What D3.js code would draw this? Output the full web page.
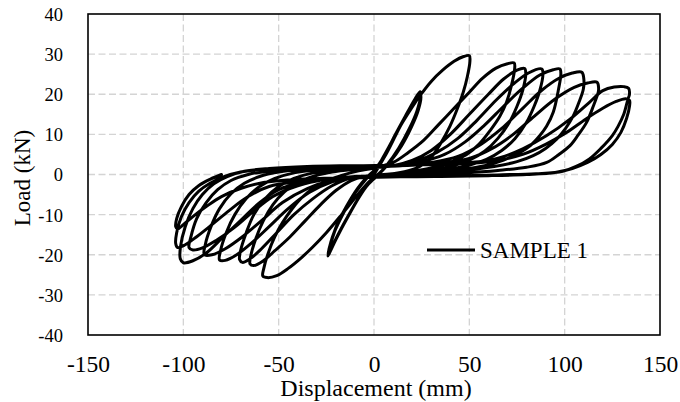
<!DOCTYPE html>
<html>
<head>
<meta charset="utf-8">
<script src="https://cdn.jsdelivr.net/npm/d3@7"></script>
<style>
  html, body { margin: 0; padding: 0; background: #ffffff; }
  svg { display: block; }
  text { font-family: "Liberation Serif", "Times New Roman", serif; fill: #000; }
</style>
</head>
<body>
<svg id="chart" width="680" height="402"></svg>
<script>
// Axis ticks
const xTicks = [-150, -100, -50, 0, 50, 100, 150];
const yTicks = [-40, -30, -20, -10, 0, 10, 20, 30, 40];
const seriesName = "SAMPLE 1";

// Load–displacement record, branch by branch: [displacement (mm), load (kN)]
const smallCycle1 = [[0,0],[5,4],[11,9.5],[17,14.8],[21.5,18.5],[24,20.3],[24.6,19.4],[23.2,16],[19.8,12],[14.5,7.2],[8.5,3.2],[3,0.4],[-2,-1.8],[-7,-5],[-13,-10],[-18.5,-14.8],[-22.3,-18.4],[-24,-20.2],[-23.6,-18.6],[-21,-14.6],[-16,-9.6],[-10.5,-5],[-5,-1.6],[0,1]];
const smallCycle2 = [[5,4.3],[11,9.8],[16.5,14.6],[21,18.4],[23.8,20.4],[24.4,19.6],[22.5,15.8],[18.5,11.4],[13,6.6],[7,2.5],[2,-0.2],[-3,-2.4],[-8.5,-6.2],[-14.5,-11.2],[-20,-16.2],[-23,-19.2],[-24.2,-20.3],[-23.4,-18.2],[-20,-13.2],[-14.5,-8],[-8.5,-3.4],[-3.5,-0.6],[1,1.4]];
const smallCycle3 = [[5.5,4.4],[11.5,9.9],[17,15],[21.5,18.8],[24.2,20.6],[24.6,19.8],[22,15],[17.5,10.2],[12,5.6],[6,1.8],[1,-0.6],[-4,-3],[-10,-7.4],[-16,-12.4],[-21,-17],[-23.6,-19.6],[-24.1,-20.1],[-22.8,-17.4],[-18.5,-11.6],[-12.5,-6.4],[-6.5,-2.2],[-2,0]];
const cycle50 = [[0,0.4],[5,4.5],[10,8.8],[15,13],[20,16.8],[25,20.2],[30,23.2],[36,26],[42,28.2],[47,29.4],[50,29.6],[50.3,28.2],[49,24.5],[46.8,20.5],[43.8,16.5],[39.8,12],[35,7.8],[30,4.3],[24,2],[16,0.7],[7,0],[0,-0.8],[-4,-2.5],[-9,-5.3],[-17,-10],[-25,-14.5],[-32,-18],[-38,-20.7],[-45,-23.4],[-51,-25.2],[-56,-25.7],[-58.3,-25.3],[-57.8,-23.4],[-55.5,-19.6],[-52,-15.5],[-48,-12],[-43,-8.6],[-37.5,-5.6],[-31,-3.2],[-24,-1.4],[-16,-0.1],[-8,0.9],[0,1.6]];
const cycle73 = [[10,3],[18,5.5],[26,8.5],[34,12.5],[42,16.5],[50,20.5],[57,24],[64,26.5],[70,27.6],[73.5,27.8],[73.8,26.5],[72,22],[69.5,18],[66,14.5],[61,11],[55,7.5],[48.6,5],[40,3],[30,1.6],[18,0.6],[5,0],[-5,-0.5],[-12,-1.5],[-20,-4],[-28,-7.5],[-36,-11.5],[-44,-15.5],[-52,-19],[-58,-21.5],[-63,-22.7],[-65,-22.3],[-64.5,-20],[-62,-16],[-58,-11.5],[-53,-7.5],[-47,-4.3],[-40,-2],[-32,-0.5],[-22,0.6],[-10,1.3],[0,1.7]];
const cycle79 = [[10,2.2],[20,3.5],[30,6],[40,10],[50,15],[60,20],[68,23.8],[75,26],[79,26.4],[79.6,25],[78,21],[75,17],[71,13],[65,9],[58,5.8],[50,3.6],[40,2],[28,1],[15,0.3],[0,-0.3],[-12,-0.8],[-22,-2.8],[-32,-6],[-42,-10],[-51,-14.5],[-59,-18.5],[-65,-21],[-69,-21.9],[-70.5,-21.2],[-70,-19],[-67,-14.5],[-63,-10],[-57,-6],[-50,-3],[-42,-1],[-32,0.4],[-20,1.2],[-5,1.7]];
const cycle88 = [[10,2.2],[22,3.3],[33,5.5],[44,9],[54,13.5],[64,18.5],[73,22.5],[81,25.3],[88,26.3],[88.6,25],[87,21],[84,17],[80,13],[74,9],[67,6],[59,3.8],[49,2.2],[37,1.2],[22,0.4],[5,-0.2],[-10,-0.6],[-22,-1.8],[-34,-4.5],[-45,-8.5],[-55,-13],[-64,-17],[-72,-20],[-78,-21.4],[-81,-21.3],[-80.5,-19],[-77.5,-14.5],[-73,-10],[-67,-6],[-60,-3],[-52,-1],[-42,0.4],[-30,1.2],[-15,1.6],[0,2]];
const cycle97 = [[12,2.3],[25,3.2],[37,5],[48,8.2],[58,12.3],[68,17],[78,21.5],[87,24.8],[94,26.1],[97.5,26.3],[98,25],[96.8,21.3],[94,15.5],[90.5,12],[87,9.7],[82,7.2],[76.6,5.5],[68,3.6],[58,2.2],[45,1.2],[30,0.4],[12,-0.2],[-8,-0.6],[-22,-1.5],[-35,-3.5],[-48,-7],[-59,-11.5],[-69,-15.5],[-78,-18.5],[-85,-20],[-89,-20],[-88.5,-17.5],[-85.5,-13],[-81,-8.5],[-75,-4.8],[-68,-2.2],[-60,-0.5],[-50,0.6],[-37,1.3],[-20,1.7],[0,2]];
const cycle109 = [[15,2.2],[30,3],[44,4.5],[56,7.5],[67,11.5],[78,16.5],[88,21],[97,24],[104,25.3],[109,25.5],[110,24],[109.8,21.3],[107.5,18],[104.5,14.6],[100.5,11.5],[95.8,8.8],[90,6.5],[83.5,4.7],[75,3.2],[63,2],[48,1.1],[30,0.4],[10,-0.2],[-10,-0.5],[-25,-1.2],[-40,-2.8],[-53,-5.5],[-64,-9.5],[-74,-13.5],[-83,-16.5],[-90,-18.3],[-95,-18.8],[-97,-18.2],[-96,-15.5],[-93,-11],[-88,-7],[-82,-3.8],[-75,-1.5],[-66,0],[-55,0.9],[-40,1.5],[-20,1.9],[0,2.1]];
const cycle117 = [[20,2.3],[35,2.9],[50,4],[62,6.5],[73,10],[84,14.5],[95,18.8],[105,21.7],[112,22.8],[117,23],[117.8,21.5],[117.6,20.5],[115,17],[111.5,13],[107,9.8],[102.8,7.2],[97,5],[90.6,3],[80,1.8],[65,1],[45,0.3],[25,-0.2],[0,-0.4],[-20,-0.9],[-38,-2],[-50,-3.8],[-60,-7],[-70,-11.5],[-79,-15.5],[-87.8,-19.5],[-95,-21.5],[-100,-22],[-101.6,-21],[-101.5,-18],[-99,-13],[-95,-8.5],[-90,-5],[-84,-2.3],[-77,-0.5],[-68,0.8],[-55,1.5],[-35,2],[-10,2.2]];
const cycle133a = [[20,2.4],[40,2.8],[55,3.2],[66,4.2],[78,6.4],[90.6,9.7],[102.8,13.8],[113,18],[120,20.9],[126,21.8],[131,21.9],[133.5,21.5],[134,20],[133.2,18.8],[131,15],[128,12],[125,9.7],[119,6.5],[113,3.9],[106,2],[99,0.8],[85,0.2],[65,-0.1],[40,-0.4],[20,-0.5],[0,-0.7],[-20,-1],[-40,-1.8],[-55,-3],[-66,-5.5],[-76,-9],[-85,-12.5],[-93,-15.5],[-99,-17.5],[-103,-18.2],[-104,-17.2],[-103.5,-14.5],[-101,-10.5],[-97,-7],[-92,-4.2],[-86,-2.2],[-79,-0.6],[-70,0.6],[-58,1.4],[-40,1.9],[-20,2.1]];
const cycle133b = [[0,2.2],[25,2.4],[50,2.8],[65,3.5],[78,5],[90,7.5],[101,10.5],[111,13.8],[120,16.5],[127,18.2],[132,18.9],[134,18.5],[134,17],[132.5,14],[129.5,10.5],[125,7.5],[119,5],[112,3],[104,1.5],[95,0.5],[80,0],[60,-0.3],[35,-0.5],[10,-0.6],[-15,-0.8],[-40,-1.2],[-58,-2],[-70,-3.5],[-80,-5.5],[-88,-8],[-95,-10.5],[-100,-12.5],[-103,-13.6],[-104,-13],[-103.5,-11],[-101,-8],[-97,-5],[-92,-2.8],[-86,-1.2],[-80,0]];

const record = [].concat(smallCycle1, smallCycle2, smallCycle3, cycle50, cycle73, cycle79,
  cycle88, cycle97, cycle109, cycle117, cycle133a, cycle133b);

const svg = d3.select("#chart");
const plot = { left: 88, right: 660, top: 14, bottom: 335 };

const x = d3.scaleLinear().domain([-150, 150]).range([plot.left, plot.right]);
const y = d3.scaleLinear().domain([-40, 40]).range([plot.bottom, plot.top]);

// Plain hyphen for negative tick values
const tickText = d => String(d);

// Dashed grid
const grid = svg.append("g").attr("stroke", "#d4d4d4").attr("stroke-width", 1.3)
  .attr("stroke-dasharray", "7,3.5");
grid.selectAll("line.h").data(yTicks.filter(t => t > -40 && t < 40)).join("line")
  .attr("x1", plot.left).attr("x2", plot.right)
  .attr("y1", d => y(d)).attr("y2", d => y(d));
grid.selectAll("line.v").data(xTicks.filter(t => t > -150 && t < 150)).join("line")
  .attr("y1", plot.top).attr("y2", plot.bottom)
  .attr("x1", d => x(d)).attr("x2", d => x(d));

// Axes (labels only; the frame is drawn as a box)
const xAxis = d3.axisBottom(x).tickValues(xTicks).tickSize(0).tickPadding(0).tickFormat(tickText);
const gx = svg.append("g").attr("transform", `translate(0,${plot.bottom})`).call(xAxis);
gx.select(".domain").remove();
gx.selectAll("text").attr("y", 37).attr("dy", null)
  .style("font-family", "'Liberation Serif', serif").style("font-size", "23.5px").attr("fill", "#000");

const yAxis = d3.axisLeft(y).tickValues(yTicks).tickSize(0).tickPadding(0).tickFormat(tickText);
const gy = svg.append("g").attr("transform", `translate(63,0)`).call(yAxis);
gy.select(".domain").remove();
gy.selectAll("text").attr("x", 0).attr("dy", "0.35em")
  .style("font-family", "'Liberation Serif', serif").style("font-size", "18.5px").attr("fill", "#000");

// Hysteresis curve
const line = d3.line().x(d => x(d[0])).y(d => y(d[1])).curve(d3.curveCatmullRom.alpha(0.5));
svg.append("path").datum(record)
  .attr("d", line)
  .attr("fill", "none").attr("stroke", "#000").attr("stroke-width", 3)
  .attr("stroke-linejoin", "round").attr("stroke-linecap", "round");

// Plot frame
svg.append("rect")
  .attr("x", plot.left).attr("y", plot.top)
  .attr("width", plot.right - plot.left).attr("height", plot.bottom - plot.top)
  .attr("fill", "none").attr("stroke", "#000").attr("stroke-width", 1.6);

// Axis titles
svg.append("text").attr("x", 376).attr("y", 396).attr("text-anchor", "middle")
  .style("font-size", "24px").text("Displacement (mm)");
svg.append("text").attr("transform", "translate(30,178) rotate(-90)").attr("text-anchor", "middle")
  .style("font-size", "23px").text("Load (kN)");

// Legend
const legend = svg.append("g");
legend.append("line").attr("x1", 427).attr("x2", 475).attr("y1", 250).attr("y2", 250)
  .attr("stroke", "#000").attr("stroke-width", 3);
legend.append("text").attr("x", 480).attr("y", 258).style("font-size", "23px").text(seriesName);
</script>
</body>
</html>
